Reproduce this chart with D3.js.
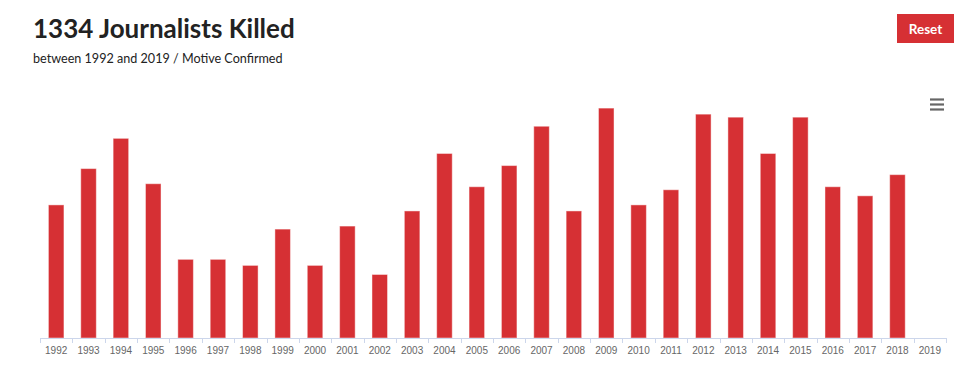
<!DOCTYPE html>
<html>
<head>
<meta charset="utf-8">
<script src="https://cdn.jsdelivr.net/npm/d3@7/dist/d3.min.js"></script>
<style>
  html, body { margin: 0; padding: 0; background: #fff; }
  svg { display: block; }
</style>
</head>
<body>
<svg id="chart" width="980" height="369"></svg>
<script>
const years = ["1992","1993","1994","1995","1996","1997","1998","1999","2000","2001","2002","2003","2004","2005","2006","2007","2008","2009","2010","2011","2012","2013","2014","2015","2016","2017","2018","2019"];
const killed = [44,56,66,51,26,26,24,36,24,37,21,42,61,50,57,70,42,76,44,49,74,73,61,73,50,47,54,0];
const titleText = d3.sum(killed) + " Journalists Killed";
const subtitleText = "between 1992 and 2019 / Motive Confirmed";
const yDomain = [0, 80];

const svg = d3.select("#chart");
const red = "#d63034";

const x = d3.scaleBand().domain(years).range([40, 946]).padding(0);
const y = d3.scaleLinear().domain(yDomain).range([338, 96]);

// title
svg.append("text").attr("x", 33).attr("y", 38)
  .attr("font-family", "Lato").attr("font-weight", 700).attr("font-size", 26)
  .attr("fill", "#222").text(titleText);
svg.append("text").attr("x", 33).attr("y", 63)
  .attr("font-family", "Lato").attr("font-size", 12.6)
  .attr("fill", "#222").text(subtitleText);

// reset button
const btn = svg.append("g");
btn.append("rect").attr("x", 897).attr("y", 14).attr("width", 57).attr("height", 29).attr("fill", red);
btn.append("text").attr("x", 925.5).attr("y", 33.5).attr("text-anchor", "middle")
  .attr("font-family", "Lato").attr("font-weight", 700).attr("font-size", 13.5)
  .attr("fill", "#fff").text("Reset");

// menu icon
[99.5, 104.5, 109.5].forEach(yy => {
  svg.append("line").attr("x1", 930).attr("x2", 944).attr("y1", yy).attr("y2", yy)
    .attr("stroke", "#666").attr("stroke-width", 2.2);
});

// bars
const bw = x.bandwidth() * 0.48;
svg.append("g").selectAll("rect").data(years.map((yr, i) => ({yr, v: killed[i]})).filter(d => d.v > 0))
  .join("rect")
  .attr("x", d => x(d.yr) + x.bandwidth() / 2 - bw / 2)
  .attr("y", d => y(d.v))
  .attr("width", bw)
  .attr("height", d => y(0) - y(d.v))
  .attr("fill", red)
  .attr("stroke", "rgba(255,255,255,0.45)")
  .attr("stroke-width", 1);

// x axis
const axis = d3.axisBottom(x).tickSize(0).tickPadding(9);
const gx = svg.append("g").attr("transform", `translate(0,${y(0)})`).call(axis);
gx.select(".domain").attr("stroke", "#ccd6eb").attr("d", `M40,0.5H946`);
gx.selectAll("text").attr("font-family", "Liberation Sans, Arial, sans-serif").attr("font-size", 10).attr("fill", "#666");
// ticks on band boundaries
const bounds = years.map(yr => x(yr)).concat([x.range()[1]]);
gx.append("g").selectAll("line").data(bounds).join("line")
  .attr("x1", d => Math.round(d) + 0.5).attr("x2", d => Math.round(d) + 0.5)
  .attr("y1", 0).attr("y2", 5)
  .attr("stroke", "#ccd6eb");
</script>
</body>
</html>
